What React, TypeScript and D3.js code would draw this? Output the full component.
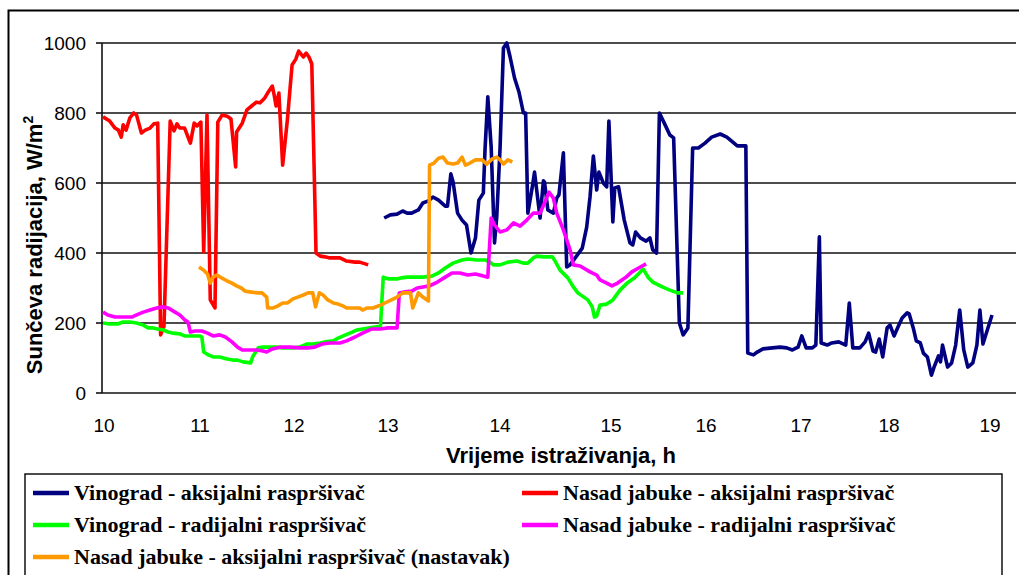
import React from "react";
import * as d3 from "d3";

// hours (decimal) and W/m2
const vinogradAksijalni: [number, number][] = [
  [12.97, 500], [13.03, 509], [13.09, 511], [13.14, 520], [13.18, 514], [13.22, 514], [13.28, 523],
  [13.32, 543], [13.37, 549], [13.41, 560], [13.46, 551], [13.52, 534], [13.54, 534], [13.57, 626],
  [13.59, 603], [13.63, 514], [13.67, 494], [13.71, 480], [13.75, 400], [13.79, 443], [13.82, 551],
  [13.86, 571], [13.875, 694], [13.9, 846], [13.93, 703], [13.96, 429], [13.98, 503], [14.01, 703],
  [14.04, 986], [14.07, 1000], [14.1, 960], [14.14, 900], [14.18, 860], [14.22, 800], [14.24, 800],
  [14.26, 514], [14.3, 589], [14.32, 631], [14.37, 500], [14.4, 606], [14.41, 603], [14.44, 523],
  [14.49, 514], [14.52, 557], [14.54, 566], [14.58, 686], [14.61, 360], [14.64, 366], [14.68, 383],
  [14.75, 414], [14.79, 474], [14.82, 560], [14.85, 677], [14.88, 580], [14.9, 631], [14.94, 600],
  [14.97, 589], [14.99, 777], [15.03, 489], [15.05, 586], [15.09, 589], [15.15, 494], [15.21, 429],
  [15.24, 423], [15.27, 460], [15.32, 443], [15.38, 434], [15.42, 443], [15.45, 409], [15.49, 400],
  [15.52, 800], [15.58, 766], [15.63, 737], [15.67, 729], [15.73, 200], [15.77, 166], [15.82, 186],
  [15.87, 700], [15.93, 700], [16.0, 714], [16.07, 731], [16.16, 740], [16.23, 731], [16.34, 706],
  [16.43, 706], [16.45, 114], [16.51, 109], [16.55, 117], [16.61, 126], [16.71, 129], [16.79, 131],
  [16.86, 129], [16.92, 123], [16.98, 131], [17.02, 163], [17.07, 129], [17.14, 129], [17.18, 137],
  [17.22, 446], [17.24, 143], [17.31, 137], [17.36, 143], [17.44, 146], [17.52, 137], [17.56, 257],
  [17.6, 129], [17.68, 129], [17.74, 146], [17.78, 171], [17.83, 120], [17.86, 117], [17.9, 154],
  [17.94, 103], [17.99, 186], [18.02, 194], [18.06, 163], [18.1, 189], [18.14, 214], [18.19, 229],
  [18.21, 226], [18.25, 186], [18.28, 149], [18.32, 143], [18.35, 114], [18.39, 103], [18.43, 51],
  [18.46, 77], [18.5, 106], [18.52, 89], [18.54, 137], [18.59, 74], [18.63, 86], [18.67, 137],
  [18.71, 237], [18.75, 123], [18.79, 74], [18.84, 86], [18.88, 137], [18.91, 237], [18.94, 140],
  [19.03, 223],
];

const jabukeAksijalni: [number, number][] = [
  [10.0, 789], [10.07, 777], [10.125, 757], [10.16, 751], [10.19, 731], [10.21, 766], [10.24, 751],
  [10.28, 786], [10.32, 800], [10.35, 794], [10.4, 743], [10.44, 751], [10.49, 757], [10.53, 769],
  [10.57, 771], [10.6, 166], [10.635, 190], [10.7, 777], [10.74, 749], [10.77, 769], [10.8, 757],
  [10.85, 757], [10.91, 714], [10.95, 771], [10.98, 763], [11.02, 774], [11.05, 403], [11.085, 794],
  [11.12, 266], [11.17, 243], [11.2, 774], [11.245, 794], [11.3, 791], [11.34, 783], [11.39, 646],
  [11.4, 746], [11.46, 771], [11.51, 809], [11.56, 820], [11.61, 831], [11.65, 829], [11.7, 843],
  [11.73, 857], [11.78, 877], [11.8, 851], [11.82, 820], [11.85, 857], [11.89, 651], [11.94, 780],
  [11.99, 937], [12.03, 954], [12.06, 977], [12.11, 960], [12.14, 971], [12.17, 960], [12.2, 940],
  [12.245, 400], [12.29, 391], [12.34, 389], [12.39, 386], [12.5, 386], [12.57, 377], [12.66, 374],
  [12.71, 374], [12.8, 366],
];

const vinogradRadijalni: [number, number][] = [
  [10.0, 200], [10.07, 197], [10.15, 197], [10.21, 203], [10.28, 203], [10.35, 200], [10.42, 194],
  [10.47, 186], [10.52, 186], [10.57, 183], [10.63, 180], [10.68, 174], [10.73, 171], [10.8, 169],
  [10.85, 163], [10.93, 163], [11.01, 163], [11.03, 160], [11.05, 117], [11.1, 109], [11.15, 103],
  [11.22, 103], [11.3, 97], [11.36, 94], [11.41, 94], [11.47, 89], [11.55, 86], [11.57, 103],
  [11.63, 129], [11.68, 131], [11.755, 131], [11.83, 131], [11.89, 129], [12.0, 129], [12.07, 131],
  [12.15, 140], [12.21, 140], [12.29, 143], [12.34, 146], [12.43, 149], [12.48, 157], [12.56, 166],
  [12.63, 174], [12.68, 180], [12.74, 183], [12.82, 186], [12.89, 189], [12.93, 189], [12.96, 331],
  [13.01, 326], [13.09, 326], [13.13, 329], [13.18, 331], [13.23, 331], [13.32, 331], [13.4, 334],
  [13.46, 343], [13.52, 357], [13.59, 371], [13.67, 380], [13.72, 383], [13.8, 380], [13.88, 380],
  [13.92, 374], [13.95, 366], [14.01, 366], [14.08, 374], [14.16, 377], [14.22, 371], [14.26, 371],
  [14.31, 386], [14.34, 391], [14.4, 389], [14.48, 389], [14.5, 380], [14.55, 351], [14.62, 329],
  [14.67, 303], [14.71, 286], [14.8, 266], [14.84, 246], [14.86, 217], [14.88, 220], [14.91, 251],
  [14.97, 254], [15.03, 266], [15.105, 294], [15.18, 314], [15.26, 329], [15.35, 354], [15.4, 331],
  [15.45, 317], [15.55, 303], [15.63, 294], [15.71, 286], [15.77, 286],
];

const jabukeRadijalni: [number, number][] = [
  [10.0, 231], [10.05, 223], [10.125, 217], [10.21, 217], [10.3, 217], [10.35, 223], [10.42, 231],
  [10.49, 237], [10.56, 243], [10.625, 246], [10.68, 243], [10.75, 231], [10.8, 223], [10.85, 209],
  [10.885, 203], [10.91, 174], [10.96, 177], [11.03, 177], [11.09, 171], [11.15, 163], [11.22, 166],
  [11.28, 160], [11.35, 146], [11.41, 131], [11.46, 123], [11.52, 123], [11.62, 123], [11.68, 120],
  [11.72, 117], [11.78, 126], [11.86, 131], [11.97, 131], [12.07, 129], [12.16, 129], [12.23, 131],
  [12.31, 140], [12.39, 143], [12.5, 143], [12.57, 149], [12.66, 160], [12.74, 171], [12.84, 183],
  [12.93, 183], [13.01, 186], [13.09, 186], [13.11, 286], [13.16, 289], [13.22, 291], [13.27, 300],
  [13.32, 303], [13.38, 306], [13.45, 317], [13.52, 331], [13.58, 343], [13.65, 343], [13.72, 337],
  [13.79, 340], [13.86, 334], [13.9, 331], [13.93, 500], [13.96, 480], [14.01, 460], [14.07, 466],
  [14.13, 486], [14.19, 477], [14.25, 494], [14.31, 514], [14.37, 514], [14.41, 543], [14.45, 574],
  [14.49, 557], [14.52, 514], [14.58, 466], [14.64, 409], [14.67, 366], [14.73, 363], [14.82, 346],
  [14.88, 337], [14.91, 323], [14.97, 314], [15.02, 306], [15.08, 314], [15.16, 329], [15.23, 346],
  [15.32, 360], [15.38, 369],
];

const jabukeAksijalniNastavak: [number, number][] = [
  [11.0, 360], [11.05, 351], [11.09, 340], [11.12, 314], [11.15, 331], [11.19, 337], [11.24, 329],
  [11.3, 320], [11.35, 314], [11.4, 306], [11.45, 300], [11.49, 291], [11.54, 289], [11.62, 286],
  [11.67, 286], [11.72, 274], [11.73, 243], [11.79, 243], [11.84, 249], [11.89, 257], [11.94, 257],
  [12.0, 269], [12.05, 274], [12.11, 280], [12.16, 286], [12.21, 286], [12.24, 246], [12.28, 286],
  [12.32, 280], [12.37, 266], [12.43, 257], [12.48, 254], [12.53, 249], [12.57, 243], [12.64, 243],
  [12.71, 243], [12.74, 237], [12.79, 243], [12.85, 243], [12.93, 251], [13.0, 260], [13.04, 266],
  [13.09, 274], [13.14, 286], [13.21, 286], [13.23, 243], [13.28, 286], [13.32, 274], [13.37, 263],
  [13.38, 651], [13.42, 657], [13.46, 671], [13.5, 674], [13.54, 657], [13.59, 654], [13.63, 657],
  [13.67, 674], [13.7, 651], [13.74, 657], [13.79, 666], [13.85, 666], [13.89, 654], [13.94, 669],
  [13.98, 674], [14.01, 666], [14.04, 654], [14.08, 666], [14.12, 660],
];

const hourTicks = [10, 11, 12, 13, 14, 15, 16, 17, 18, 19];
// the category axis spaces the hours unevenly
const hourPositions = [103, 199, 293, 387, 499, 610, 705, 800, 888, 989];
const valueTicks = [0, 200, 400, 600, 800, 1000];

const series = [
  { name: "Vinograd - aksijalni raspršivač", color: "#000080", data: vinogradAksijalni },
  { name: "Nasad jabuke - aksijalni raspršivač", color: "#FF0000", data: jabukeAksijalni },
  { name: "Vinograd - radijalni raspršivač", color: "#00FF00", data: vinogradRadijalni },
  { name: "Nasad jabuke - radijalni raspršivač", color: "#FF00FF", data: jabukeRadijalni },
  { name: "Nasad jabuke - aksijalni raspršivač (nastavak)", color: "#FF9900", data: jabukeAksijalniNastavak },
];

export default function App() {
  const width = 1019;
  const height = 575;
  const plot = { left: 102, right: 1016, top: 43, bottom: 393 };

  const x = d3.scaleLinear().domain(hourTicks).range(hourPositions);
  const y = d3.scaleLinear().domain([0, 1000]).range([plot.bottom, plot.top]);

  const line = d3
    .line<[number, number]>()
    .x((d) => x(d[0]))
    .y((d) => y(d[1]));

  const sans = "'Liberation Sans', Arial, sans-serif";
  const serif = "'Liberation Serif', 'Times New Roman', serif";

  return (
    <svg
      width={width}
      height={height}
      style={{ position: "absolute", left: 0, top: 0, background: "#fff" }}
    >
      <rect x={8.5} y={10.5} width={1040} height={620} fill="#fff" stroke="#000" strokeWidth={2} />

      {/* gridlines */}
      {valueTicks.map((v) => (
        <line key={v} x1={plot.left} x2={plot.right} y1={y(v)} y2={y(v)} stroke="#111" strokeWidth={1.6} />
      ))}
      <line x1={plot.left} x2={plot.left} y1={plot.top} y2={plot.bottom} stroke="#111" strokeWidth={1.6} />
      {valueTicks.map((v) => (
        <line key={"t" + v} x1={plot.left - 6} x2={plot.left} y1={y(v)} y2={y(v)} stroke="#111" strokeWidth={1.6} />
      ))}

      {/* y ticks */}
      {valueTicks.map((v) => (
        <text key={"l" + v} x={86} y={y(v) + 7} textAnchor="end" fontFamily={sans} fontSize={19} fill="#000">
          {v}
        </text>
      ))}

      {/* x ticks */}
      {hourTicks.map((h) => (
        <text key={h} x={x(h) + 1} y={432} textAnchor="middle" fontFamily={sans} fontSize={19} fill="#000">
          {h}
        </text>
      ))}

      <text x={561} y={463} textAnchor="middle" fontFamily={sans} fontSize={22} fontWeight="bold">
        Vrijeme istraživanja, h
      </text>
      <text
        transform="translate(42,245) rotate(-90)"
        textAnchor="middle"
        fontFamily={sans}
        fontSize={22}
        fontWeight="bold"
      >
        Sunčeva radijacija, W/m
        <tspan fontSize={14} dy={-9}>2</tspan>
      </text>

      {/* series */}
      {series.map((s) => (
        <path
          key={s.name}
          d={line(s.data) ?? ""}
          fill="none"
          stroke={s.color}
          strokeWidth={3.6}
          strokeLinejoin="round"
        />
      ))}

      {/* legend */}
      <rect x={25} y={474} width={977} height={140} fill="#fff" stroke="#000" strokeWidth={1.4} />
      {series.map((s, i) => {
        const col = i % 2;
        const row = Math.floor(i / 2);
        const lx = col === 0 ? 33 : 522;
        const ly = 493 + row * 32;
        return (
          <g key={"lg" + i}>
            <line x1={lx} x2={lx + 36} y1={ly} y2={ly} stroke={s.color} strokeWidth={4.5} />
            <text x={lx + 41} y={ly + 7} fontFamily={serif} fontSize={22} fontWeight="bold" fill="#000">
              {s.name}
            </text>
          </g>
        );
      })}
    </svg>
  );
}
